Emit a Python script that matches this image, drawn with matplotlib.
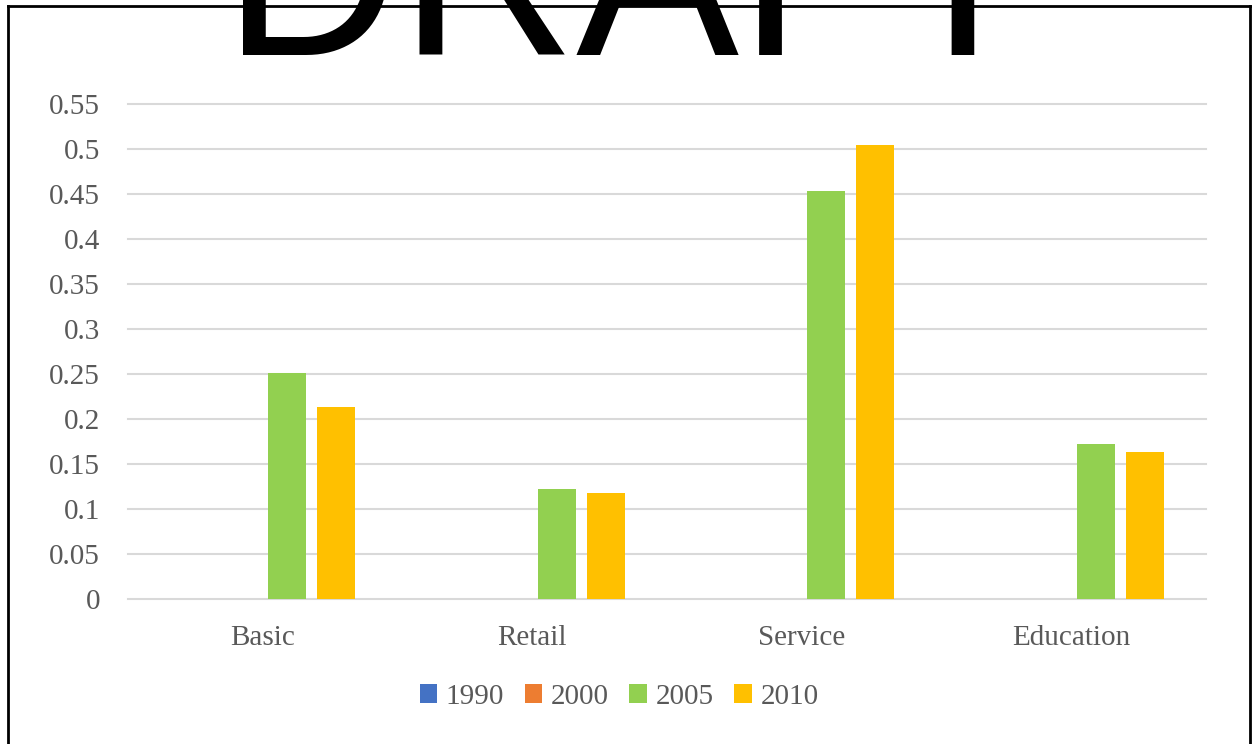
import numpy as np
import matplotlib.pyplot as plt
from matplotlib.lines import Line2D

categories = ['Basic', 'Retail', 'Service', 'Education']
years = ['1990', '2000', '2005', '2010']
v1990 = [0, 0, 0, 0]
v2000 = [0, 0, 0, 0]
v2005 = [0.251, 0.122, 0.453, 0.172]
v2010 = [0.213, 0.118, 0.504, 0.163]
colors = ['#4472c4', '#ed7d31', '#92d050', '#ffc000']
yticks = [0, 0.05, 0.1, 0.15, 0.2, 0.25, 0.3, 0.35, 0.4, 0.45, 0.5, 0.55]

plt.rcParams['font.family'] = ['Liberation Serif', 'DejaVu Serif']
grey = '#595959'
fs = 21

W, H = 1255, 744
fig = plt.figure(figsize=(W / 100, H / 100), dpi=100)
ax = fig.add_axes([128 / W, (H - 599) / H, (1206 - 128) / W, (599 - 104) / H])

x = np.arange(len(categories))
step = 0.182
width = 0.141
for i, (vals, yr) in enumerate(zip([v1990, v2000, v2005, v2010], years)):
    ax.bar(x + (i - 1.5) * step, vals, width, color=colors[i], label=yr, zorder=3)

ax.set_xlim(-0.5, len(categories) - 0.5)
ax.set_ylim(0, 0.55)
ax.set_yticks(yticks)
ax.set_yticklabels([f'{t:g}' for t in yticks])
ax.set_xticks(x)
ax.set_xticklabels(categories)
ax.grid(axis='y', color='#d9d9d9', linewidth=1.5, zorder=0)
for gl in ax.get_ygridlines():
    gl.set_clip_on(False)
for s in ax.spines.values():
    s.set_visible(False)
ax.tick_params(axis='both', length=0, labelsize=fs, labelcolor=grey)
ax.tick_params(axis='y', pad=20)
ax.tick_params(axis='x', pad=19)

fig.legend(loc='center', bbox_to_anchor=(619 / W, 1 - 697 / H), ncol=4, frameon=False,
           fontsize=fs, labelcolor=grey, handlelength=0.6, handleheight=0.6,
           handletextpad=0.3, columnspacing=0.7)

# page frame, open at the bottom
lw = 2.0
fig.add_artist(Line2D([8 / W, 8 / W], [0, 1 - 6 / H], color='black', lw=lw, transform=fig.transFigure))
fig.add_artist(Line2D([1250 / W, 1250 / W], [0, 1 - 6 / H], color='black', lw=lw, transform=fig.transFigure))
fig.add_artist(Line2D([8 / W, 1250 / W], [1 - 6 / H, 1 - 6 / H], color='black', lw=lw, transform=fig.transFigure))

fig.text(223 / W, 1 - 55 / H, 'DRAFT', fontsize=176, family='Liberation Sans',
         ha='left', va='baseline', color='black')

fig.savefig('out.png', dpi=100)
